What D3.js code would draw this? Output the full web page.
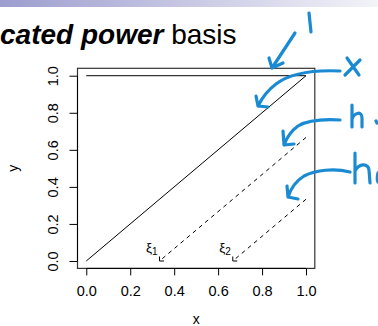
<!DOCTYPE html>
<html>
<head>
<meta charset="utf-8">
<script src="https://cdn.jsdelivr.net/npm/d3@7"></script>
<style>
  html, body { margin: 0; padding: 0; background: #fff; }
  svg { display: block; }
  text { font-family: "Liberation Sans", Arial, sans-serif; }
</style>
</head>
<body>
<div id="chart"></div>
<script>
// basis functions on [0,1], knots at 1/3 and 2/3
const knots = [1 / 3, 2 / 3];
const knotNames = ["1", "2"];
const oneSeries = [[0, 1], [1, 1]];
const xSeries = [[0, 0], [1, 1]];
const h1Series = [[1, 2 / 3], [1 / 3, 0]];
const h2Series = [[1, 1 / 3], [2 / 3, 0]];
const xTicks = [0, 0.2, 0.4, 0.6, 0.8, 1.0];
const yTicks = [0, 0.2, 0.4, 0.6, 0.8, 1.0];

// hand-drawn pen marks on the slide
const penMarks = [
    "M309,13 L311,32",
    "M295,33 L272,68 M269,58 L272,68 L283,63",
    "M340,71 C318,70 292,72 276,84 C268,90 262,98 258,106 M256,96 L258,106 L268,107",
    "M347,58 L359,75 M360,60 L345,75",
    "M340,120 C322,119 308,120 298,126 C291,131 287,137 284,145 M283,131 L284,145 L294,144",
    "M352,105 L352,127 M352,119 C355,112 362,111 362,118 L362,127",
    "M376,121 L377,123",
    "M350,172 C334,168 316,170 304,176 C296,181 291,188 288,197 M287,186 L288,197 L298,199",
    "M355,153 L355,183 M355,171 C359,163 368,163 369,170 L370,183",
    "M378,173 C377,177 377,180 378,182"
];

const W = 378, H = 326;
const svg = d3.select("#chart").append("svg").attr("width", W).attr("height", H);

// slide header gradient
const grad = svg.append("defs").append("linearGradient").attr("id", "hdr");
grad.append("stop").attr("offset", "0%").attr("stop-color", "#9d9dcf");
grad.append("stop").attr("offset", "100%").attr("stop-color", "#f3f3f9");
svg.append("rect").attr("x", 0).attr("y", 0).attr("width", W).attr("height", 7).attr("fill", "url(#hdr)");

const title = svg.append("text")
    .attr("x", 0).attr("y", 44)
    .attr("font-size", 28)
    .attr("fill", "#000");
title.append("tspan").attr("font-weight", "bold").attr("font-style", "italic").text("cated power");
title.append("tspan").text(" basis");

// R style scales (4% padding)
const x = d3.scaleLinear().domain([-0.04, 1.04]).range([77.5, 314.8]);
const y = d3.scaleLinear().domain([-0.04, 1.04]).range([268.4, 68.3]);

svg.append("rect")
    .attr("x", x(-0.04)).attr("y", y(1.04))
    .attr("width", x(1.04) - x(-0.04)).attr("height", y(-0.04) - y(1.04))
    .attr("fill", "none").attr("stroke", "#333").attr("stroke-width", 1.2);

const xAxis = svg.append("g")
    .attr("transform", `translate(0,${y(-0.04)})`)
    .call(d3.axisBottom(x).tickValues(xTicks).tickFormat(d3.format(".1f")).tickSize(7).tickPadding(10));
xAxis.select(".domain").attr("d", `M${x(0)},0H${x(1)}`).attr("stroke", "#000");
xAxis.selectAll("text").attr("font-size", 14.5).attr("font-family", "Liberation Sans, Arial, sans-serif").attr("fill", "#000");

const yAxis = svg.append("g")
    .attr("transform", `translate(${x(-0.04)},0)`)
    .call(d3.axisLeft(y).tickValues(yTicks).tickFormat(d3.format(".1f")).tickSize(8));
yAxis.select(".domain").attr("d", `M0,${y(0)}V${y(1)}`).attr("stroke", "#000");
yAxis.selectAll("text")
    .attr("font-size", 14.5)
    .attr("font-family", "Liberation Sans, Arial, sans-serif")
    .attr("fill", "#000")
    .attr("text-anchor", "middle")
    .attr("dy", null)
    .attr("x", null)
    .attr("transform", d => `translate(-20,0) rotate(-90)`);

svg.append("text").attr("x", (x(0) + x(1)) / 2).attr("y", 324)
    .attr("text-anchor", "middle").attr("font-size", 14).text("x");
svg.append("text")
    .attr("transform", `translate(18,${(y(0) + y(1)) / 2}) rotate(-90)`)
    .attr("text-anchor", "middle").attr("font-size", 14).text("y");

const line = d3.line().x(d => x(d[0])).y(d => y(d[1]));
[oneSeries, xSeries].forEach(s => {
    svg.append("path").attr("d", line(s)).attr("fill", "none").attr("stroke", "#000").attr("stroke-width", 1);
});
[h1Series, h2Series].forEach(s => {
    svg.append("path").attr("d", line(s)).attr("fill", "none").attr("stroke", "#000")
        .attr("stroke-width", 1).attr("stroke-dasharray", "4,4");
    // arrowhead at the knot
    const tx = x(s[1][0]), ty = y(s[1][1]);
    svg.append("path").attr("d", `M${tx},${ty - 4.5}L${tx},${ty}L${tx + 4.5},${ty}`)
        .attr("fill", "none").attr("stroke", "#000").attr("stroke-width", 1);
});

knots.forEach((k, i) => {
    const t = svg.append("text")
        .attr("x", x(k) - 2).attr("y", y(0) - 9)
        .attr("text-anchor", "end").attr("font-size", 13.5);
    t.append("tspan").text("ξ");
    t.append("tspan").attr("font-size", 10).attr("dy", 3).text(knotNames[i]);
});

svg.append("g").selectAll("path").data(penMarks).join("path")
    .attr("d", d => d)
    .attr("fill", "none")
    .attr("stroke", "#1a8bd2")
    .attr("stroke-width", 3.2)
    .attr("stroke-linecap", "round")
    .attr("stroke-linejoin", "round");
</script>
</body>
</html>
